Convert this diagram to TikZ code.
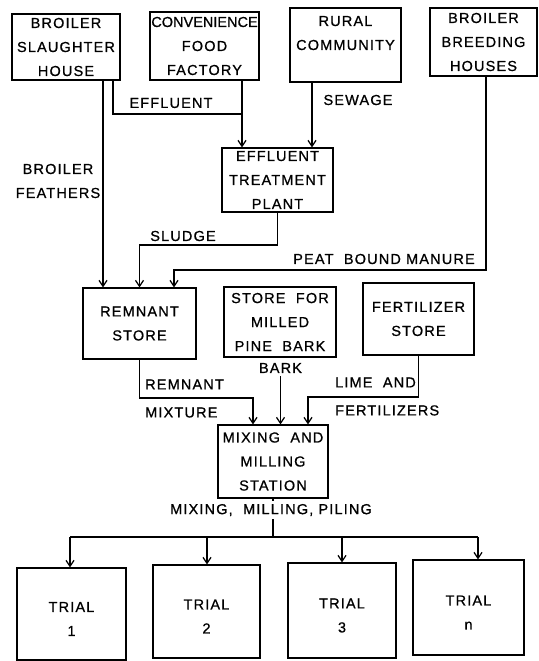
\documentclass[tikz,border=0pt]{standalone}
\usepackage{fontspec}
\setmainfont{Liberation Sans}[LetterSpace=8,FakeBold=0.8]
\usetikzlibrary{arrows.meta}
\newcommand\dlabfont{\fontsize{14.5}{24}\selectfont}
\newcommand\dlow[1]{\raisebox{-5pt}[\height][\depth]{#1}}
\begin{document}
\begin{tikzpicture}[x=1pt,y=-1pt,
  box/.style={draw, line width=1.2pt, inner sep=0pt, align=center, font=\dlabfont},
  lbl/.style={inner sep=0pt, align=center, font=\dlabfont},
  arr/.style={line width=1.2pt, -{Straight Barb[length=6pt,width=8pt,line width=1.2pt]}},
  ln/.style={line width=1.2pt}]
\useasboundingbox (0,0) rectangle (538,661);
% boxes
\node[box, minimum width=108pt, minimum height=66pt] (bsh) at (66,47) {BROILER\\SLAUGHTER\\HOUSE};
\node[box, minimum width=109pt, minimum height=68pt] (cff) at (204.5,46) {{\addfontfeature{LetterSpace=0}CONVENIENCE}\\FOOD\\FACTORY};
\node[box, minimum width=111pt, minimum height=74pt] (rc) at (345.5,45) {RURAL\\COMMUNITY\\\mbox{}};
\node[box, minimum width=107pt, minimum height=68pt] (bbh) at (483.5,42) {BROILER\\BREEDING\\HOUSES};
\node[box, minimum width=111pt, minimum height=64pt] (etp) at (277.5,180) {EFFLUENT\\TREATMENT\\PLANT};
\node[box, minimum width=113pt, minimum height=71pt] (rs) at (139.5,323.5) {REMNANT\\STORE};
\node[box, minimum width=112pt, minimum height=70pt] (spb) at (280,322) {STORE\ \ FOR\\MILLED\\PINE\ \ BARK};
\node[box, minimum width=111pt, minimum height=72pt] (fs) at (418.5,319) {FERTILIZER\\STORE};
\node[box, minimum width=110pt, minimum height=73pt] (mms) at (273,461.5) {MIXING\ \ AND\\MILLING\\STATION};
\node[box, minimum width=109pt, minimum height=92pt] (t1) at (71.5,614) {\dlow{TRIAL}\\\dlow{1}};
\node[box, minimum width=107pt, minimum height=93pt] (t2) at (206.5,611.5) {\dlow{TRIAL}\\\dlow{2}};
\node[box, minimum width=108pt, minimum height=95pt] (t3) at (342,610.5) {\dlow{TRIAL}\\\dlow{3}};
\node[box, minimum width=111pt, minimum height=95pt] (tn) at (468.5,607.5) {\dlow{TRIAL}\\\dlow{n}};
% labels
\node[lbl] (efl) at (171,103) {EFFLUENT};
\node[lbl] (sew) at (358,100) {SEWAGE};
\node[lbl] (bf) at (58,181) {BROILER\\FEATHERS};
\node[lbl] (slu) at (183,236) {SLUDGE};
\node[lbl] (pbm) at (384,259) {PEAT\ \ BOUND MANURE};
\node[lbl, align=left, anchor=west] (rml) at (145,398.5) {REMNANT\\[4pt]MIXTURE};
\node[lbl, align=left, anchor=west] (lml) at (335,396.5) {LIME\ \ AND\\[4pt]FERTILIZERS};
\node[lbl] (bark) at (280.5,368) {BARK};
\node[lbl, inner ysep=3pt] (mmp) at (271,510) {MIXING,\ \ MILLING,\ PILING};
% helper coordinates
\coordinate (xf) at (103,0);
\coordinate (xe) at (113,0);
\coordinate (ye) at (0,114);
\coordinate (xc) at (242,0);
\coordinate (xs) at (312,0);
\coordinate (ysl) at (0,245);
\coordinate (xp) at (486,0);
\coordinate (yp) at (0,270);
\coordinate (xpa) at (174,0);
\coordinate (yr) at (0,398);
\coordinate (xra) at (253,0);
\coordinate (yl) at (0,397);
\coordinate (xla) at (308,0);
\coordinate (yo) at (0,537);
\coordinate (x1) at (70,0);
\coordinate (x2) at (207,0);
\coordinate (x3) at (342,0);
\coordinate (x4) at (478,0);
% connectors
\draw[arr] (bsh.south -| xf) -- (rs.north -| xf);
\draw[ln] (bsh.south -| xe) |- (ye -| xc);
\draw[arr] (cff.south -| xc) -- (etp.north -| xc);
\draw[arr] (rc.south -| xs) -- (etp.north -| xs);
\draw[arr] (etp.south) |- (ysl -| rs.north) -- (rs.north);
\draw[arr] (bbh.south -| xp) |- (yp -| xpa) -- (rs.north -| xpa);
\draw[arr] (rs.south) |- (yr -| xra) -- (mms.north -| xra);
\draw[arr, shorten <=3pt] (bark.south) -- (mms.north -| bark.south);
\draw[arr] (fs.south) |- (yl -| xla) -- (mms.north -| xla);
\draw[ln] (mms.south) -- (mms.south |- mmp.north);
\draw[ln] (mms.south |- mmp.south) -- (yo -| mms.south);
\draw[ln] (yo -| x1) -- (yo -| x4);
\draw[arr] (yo -| x1) -- (t1.north -| x1);
\draw[arr] (yo -| x2) -- (t2.north -| x2);
\draw[arr] (yo -| x3) -- (t3.north -| x3);
\draw[arr] (yo -| x4) -- (tn.north -| x4);
\end{tikzpicture}
\end{document}
